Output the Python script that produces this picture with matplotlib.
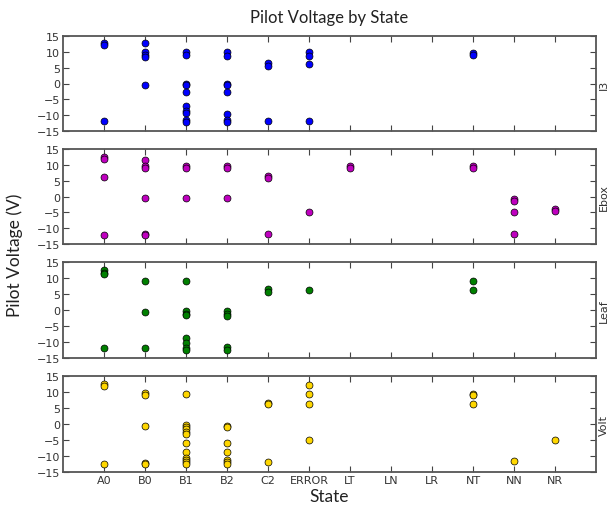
import matplotlib
matplotlib.use("Agg")
import matplotlib.pyplot as plt

states = ["A0", "B0", "B1", "B2", "C2", "ERROR", "LT", "LN", "LR", "NT", "NN", "NR"]
sensors = ["I3", "Ebox", "Leaf", "Volt"]
colors = ["#0000ff", "#bf00bf", "#008000", "#ffd700"]

i3_state = (["A0"] * 3 + ["B0"] * 5 + ["B1"] * 10 + ["B2"] * 8 + ["C2"] * 3
            + ["ERROR"] * 4 + ["NT"] * 2)
i3_value = [12.8, 12.1, -12.0,
            12.8, 9.8, 9.0, 8.5, -0.6,
            9.8, 9.0, 0.0, -0.6, -2.8, -7.0, -8.6, -9.4, -11.6, -12.2,
            9.8, 8.7, 0.0, -0.6, -2.8, -9.6, -11.6, -12.2,
            6.4, 5.5, -12.0,
            9.8, 8.7, 6.1, -12.0,
            9.5, 8.9]

ebox_state = (["A0"] * 4 + ["B0"] * 6 + ["B1"] * 3 + ["B2"] * 3 + ["C2"] * 3
              + ["ERROR"] * 1 + ["LT"] * 2 + ["NT"] * 2 + ["NN"] * 4 + ["NR"] * 2)
ebox_value = [12.5, 11.8, 6.3, -12.1,
              11.6, 9.7, 8.9, -0.6, -11.7, -12.3,
              9.7, 8.9, -0.6,
              9.7, 8.9, -0.6,
              6.5, 5.8, -11.7,
              -5.0,
              9.7, 8.9,
              9.7, 8.9,
              -0.8, -1.5, -5.0, -11.8,
              -3.8, -4.6]

leaf_state = (["A0"] * 4 + ["B0"] * 3 + ["B1"] * 8 + ["B2"] * 5 + ["C2"] * 2
              + ["ERROR"] * 1 + ["NT"] * 2)
leaf_value = [12.5, 11.7, 11.2, -12.0,
              9.1, -0.7, -12.0,
              9.1, -0.4, -1.2, -1.7, -8.9, -10.4, -11.9, -12.6,
              -0.4, -1.2, -1.9, -11.5, -12.4,
              6.5, 5.6,
              6.2,
              9.1, 6.3]

volt_state = (["A0"] * 3 + ["B0"] * 5 + ["B1"] * 12 + ["B2"] * 7 + ["C2"] * 3
              + ["ERROR"] * 4 + ["NT"] * 3 + ["NN"] * 1 + ["NR"] * 1)
volt_value = [12.5, 12.0, -12.5,
              9.7, 9.1, -0.5, -12.1, -12.6,
              9.3, -0.3, -1.0, -1.6, -2.5, -3.0, -5.9, -8.8, -10.7, -11.2, -12.0, -12.6,
              -0.5, -1.0, -5.9, -8.8, -11.2, -12.0, -12.6,
              6.7, 6.1, -12.0,
              12.3, 9.3, 6.2, -5.0,
              9.4, 9.0, 6.3,
              -11.6,
              -4.9]

yticks = [-15, -10, -5, 0, 5, 10, 15]

panel_data = [(i3_state, i3_value), (ebox_state, ebox_value),
              (leaf_state, leaf_value), (volt_state, volt_value)]

W, H = 612, 510
fig = plt.figure(figsize=(W / 100, H / 100), dpi=100)
left_px, right_px = 63, 596
panels_px = [(37, 132), (150, 245), (263, 359), (377, 473)]

tick_font = "DejaVu Sans"
label_font = ["Lato", "DejaVu Sans"]

axes = []
for i, ((top, bot), name, col, (st, val)) in enumerate(
        zip(panels_px, sensors, colors, panel_data)):
    ax = fig.add_axes([left_px / W, 1 - bot / H, (right_px - left_px) / W, (bot - top) / H])
    xs = [states.index(s) for s in st]
    ax.plot(xs, val, "o", color=col, markersize=5.0, markeredgecolor="black",
            markeredgewidth=0.5, linestyle="none")
    ax.set_xlim(-1, len(states))
    ax.set_ylim(-15, 15)
    ax.set_yticks(yticks)
    ax.set_yticklabels(["\u2212%d" % -t if t < 0 else "%d" % t for t in yticks],
                       fontsize=8, family=tick_font, color="#333333")
    ax.set_xticks(range(len(states)))
    if i == len(sensors) - 1:
        ax.set_xticklabels(states, fontsize=8, family=tick_font, color="#333333")
    else:
        ax.set_xticklabels([])
    ax.tick_params(direction="in", top=True, right=True, length=4, width=0.8,
                   color="#444444", pad=2)
    for sp in ax.spines.values():
        sp.set_color("#555555")
        sp.set_linewidth(1.3)
    ax.text(604 / W, 1 - (top + bot) / 2 / H, name, transform=fig.transFigure,
            rotation=90, va="center", ha="center", fontsize=8,
            family=tick_font, color="#333333")
    axes.append(ax)

fig.text((left_px + right_px) / 2 / W, 1 - 18 / H, "Pilot Voltage by State",
         ha="center", va="center", fontsize=12, family=label_font, color="#222222")
fig.text((left_px + right_px) / 2 / W, 1 - 497 / H, "State",
         ha="center", va="center", fontsize=12.5, family=label_font, color="#222222")
fig.text(15 / W, 1 - 255 / H, "Pilot Voltage (V)", rotation=90,
         ha="center", va="center", fontsize=12.5, family=label_font, color="#222222")

fig.savefig("out.png", dpi=100)
